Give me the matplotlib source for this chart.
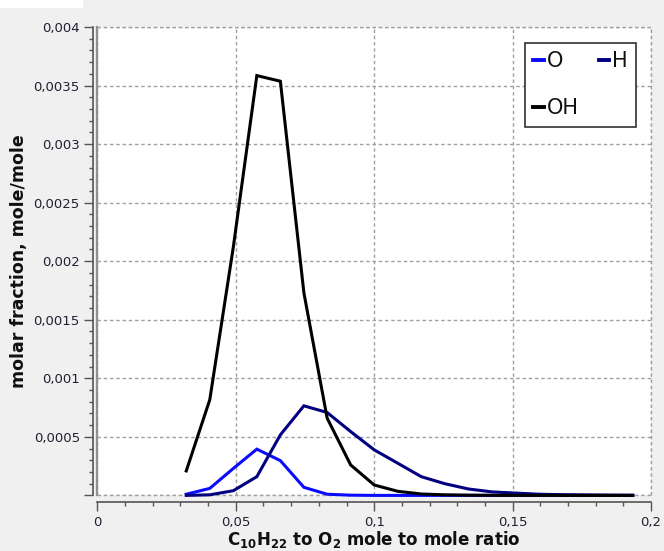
import matplotlib
matplotlib.use("Agg")
import matplotlib.pyplot as plt
from matplotlib.ticker import MultipleLocator, FuncFormatter
from matplotlib.lines import Line2D
from matplotlib.patches import Rectangle

# ---- data ----
ratio = [0.0321, 0.0406, 0.0491, 0.0576, 0.0661, 0.0746, 0.0830, 0.0915, 0.1000, 0.1085,
         0.1170, 0.1255, 0.1340, 0.1425, 0.1510, 0.1595, 0.1680, 0.1764, 0.1849, 0.1934]
O_vals = [0.00001, 0.00006, 0.00023, 0.000395, 0.000297, 0.000069, 0.00001, 0.000002, 0.0, 0.0,
          0.0, 0.0, 0.0, 0.0, 0.0, 0.0, 0.0, 0.0, 0.0, 0.0]
H_vals = [0.0, 0.000005, 0.00004, 0.00016, 0.000517, 0.000765, 0.000708, 0.000545, 0.000389, 0.000275,
          0.00016, 0.0001, 0.000055, 0.00003, 0.00002, 0.00001, 0.000006, 0.000004, 0.000002, 0.000001]
OH_vals = [0.000209, 0.000817, 0.00212, 0.003585, 0.003537, 0.00173, 0.00066, 0.00026, 0.000089, 0.000035,
           0.000012, 0.000005, 0.000002, 0.000001, 0.0, 0.0, 0.0, 0.0, 0.0, 0.0]
series_names = ["O", "H", "OH"]
series_colors = ["#0a0aff", "#000080", "#000000"]
x_label = r"C$_\mathbf{10}$H$_\mathbf{22}$ to O$_\mathbf{2}$ mole to mole ratio"
y_label = "molar fraction, mole/mole"

plt.rcParams['font.family'] = ['DejaVu Sans']
plt.rcParams['mathtext.fontset'] = 'dejavusans'

fig = plt.figure(figsize=(6.64, 5.51), dpi=100, facecolor="#f0f0f0")
# top-left white strip
fig.patches.append(Rectangle((0, 1 - 8 / 551), 83 / 664, 8 / 551, transform=fig.transFigure,
                             facecolor="white", edgecolor="none"))

ax = fig.add_axes([97.4 / 664, 55.6 / 551, (651 - 97.4) / 664, (495.4 - 27) / 551])
ax.set_facecolor("white")

tick_col = "#202030"
spine_col = "#555555"

lines = []
for vals, name, col in zip([O_vals, H_vals, OH_vals], series_names, series_colors):
    l, = ax.plot(ratio, vals, color=col, lw=2.2, label=name, clip_on=False, zorder=3,
                 solid_joinstyle="miter")
    lines.append(l)

ax.set_xlim(0, 0.2)
ax.set_ylim(0, 0.004)

ax.xaxis.set_major_locator(MultipleLocator(0.05))
ax.xaxis.set_minor_locator(MultipleLocator(0.01))
ax.yaxis.set_major_locator(MultipleLocator(0.0005))
ax.yaxis.set_minor_locator(MultipleLocator(0.0001))

def fmt_x(v, pos):
    return ("%g" % round(v, 6)).replace(".", ",")

def fmt_y(v, pos):
    if abs(v) < 1e-12:
        return ""
    return ("%g" % round(v, 6)).replace(".", ",")

ax.xaxis.set_major_formatter(FuncFormatter(fmt_x))
ax.yaxis.set_major_formatter(FuncFormatter(fmt_y))

ax.grid(True, which="major", color="#a0a0a0", lw=1.0, linestyle=(0, (2.5, 2)))

# spines: offset left/bottom, hide top/right; draw dashed box
for s in ["top", "right"]:
    ax.spines[s].set_visible(False)
ax.spines["left"].set_position(("outward", 3.2))
ax.spines["bottom"].set_position(("outward", 4.5))
for s in ["left", "bottom"]:
    ax.spines[s].set_color(spine_col)
    ax.spines[s].set_linewidth(1.2)

box_kw = dict(transform=ax.transAxes, clip_on=False, zorder=2)
ax.add_line(Line2D([0, 1], [1, 1], color="#a0a0a0", lw=1.0, linestyle=(0, (2.5, 2)), **box_kw))
ax.add_line(Line2D([1, 1], [0, 1], color="#a0a0a0", lw=1.0, linestyle=(0, (2.5, 2)), **box_kw))
ax.add_line(Line2D([0, 1], [0, 0], color="#a0a0a0", lw=1.0, linestyle=(0, (2.5, 2)), **box_kw))
ax.add_line(Line2D([0, 0], [0, 1], color="#909090", lw=1.6, **box_kw))

ax.tick_params(axis="both", which="major", direction="out", length=6.5, width=1.0,
               color=spine_col, labelsize=9.5, labelcolor=tick_col)
ax.tick_params(axis="both", which="minor", direction="out", length=3, width=1.0, color=spine_col)
ax.tick_params(axis="y", which="major", pad=3)
ax.tick_params(axis="x", which="major", pad=4)

ax.set_xlabel(x_label, fontsize=12, fontweight="bold", color="#101010", labelpad=0)
ax.set_ylabel(y_label, fontsize=12.5, fontweight="bold", color="#101010", labelpad=4)

leg = ax.legend([lines[0], lines[2], lines[1]], [series_names[0], series_names[2], series_names[1]],
                ncol=2, loc="upper right", bbox_to_anchor=(1 - 15 / 553.6, 1 - 16 / 468.4),
                borderaxespad=0, fontsize=15, handlelength=0.5, handletextpad=0.15,
                columnspacing=0.95, labelspacing=1.3, borderpad=0.4, frameon=True,
                fancybox=False)
leg.get_frame().set_edgecolor("#303030")
leg.get_frame().set_linewidth(1.2)
leg.get_frame().set_alpha(1)
for t in leg.get_texts():
    t.set_color("#101010")
for h in leg.get_lines():
    h.set_linewidth(2.8)

fig.savefig("out.png", dpi=100, facecolor=fig.get_facecolor())
